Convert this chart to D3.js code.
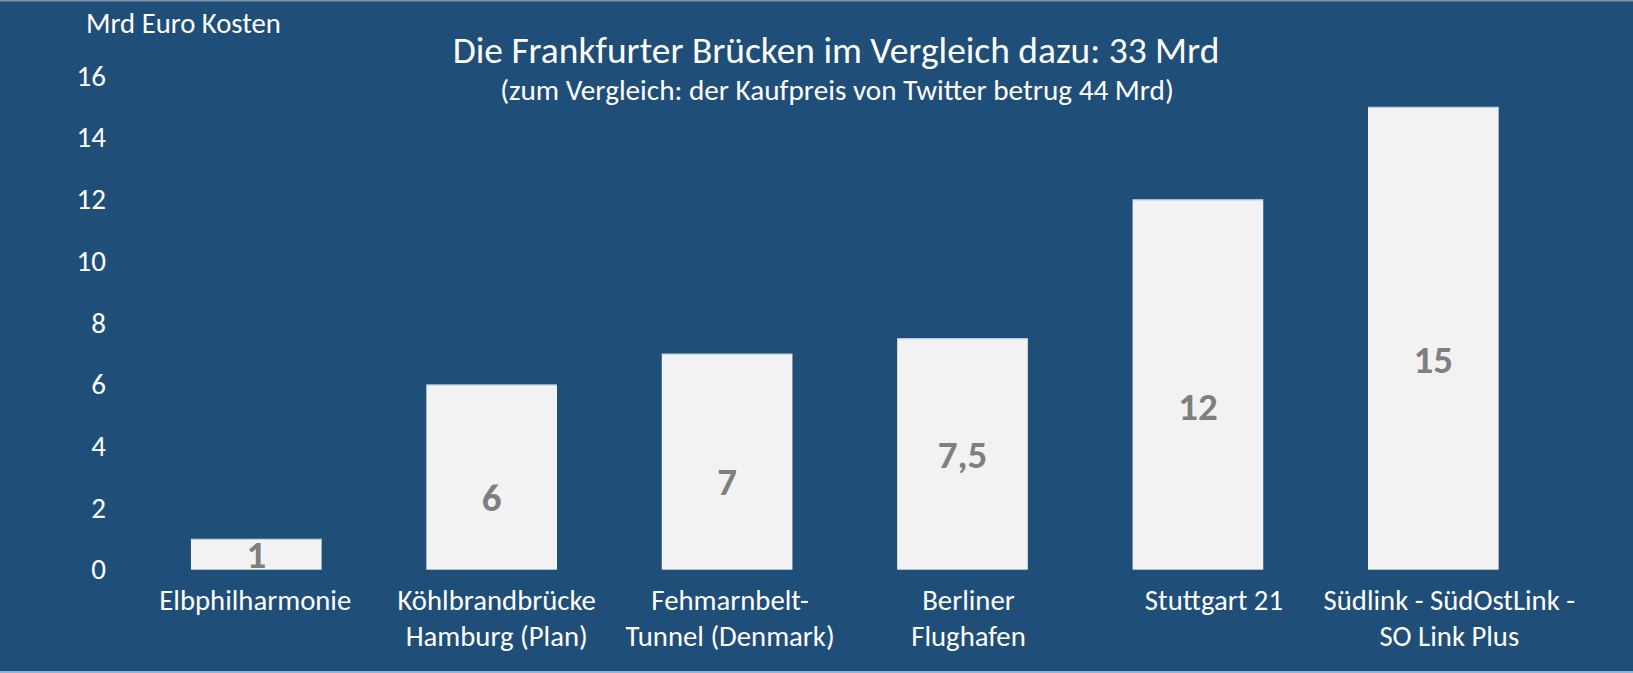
<!DOCTYPE html>
<html><head><meta charset="utf-8">
<script src="https://cdn.jsdelivr.net/npm/d3@7"></script>
<style>html,body{margin:0;padding:0;background:#1f4e79;overflow:hidden}</style>
</head><body><svg id="chart" width="1633" height="673"></svg>
<script>
// ---- data ----
const categories = ["Elbphilharmonie", "Köhlbrandbrücke\nHamburg (Plan)", "Fehmarnbelt-\nTunnel (Denmark)", "Berliner\nFlughafen", "Stuttgart 21", "Südlink - SüdOstLink -\nSO Link Plus"];
const values = [1, 6, 7, 7.5, 12, 15];
const valueLabels = ["1", "6", "7", "7,5", "12", "15"];
const yTicks = [0, 2, 4, 6, 8, 10, 12, 14, 16];
const yTickLabels = ["0", "2", "4", "6", "8", "10", "12", "14", "16"];
const titleText = "Die Frankfurter Brücken im Vergleich dazu: 33 Mrd";
const subtitleText = "(zum Vergleich: der Kaufpreis von Twitter betrug 44 Mrd)";
const yTitleText = "Mrd Euro Kosten";

// ---- layout / style ----
const W = 1633, H = 673;
const FONT = "Carlito, Calibri, Lato, sans-serif";
const labelShift = [0, 20, 19, 0, 21, 21];
const catDx = [-1, 5, 3, 6, 16, 16];
const svg = d3.select("#chart");
svg.append("rect").attr("width", W).attr("height", H).attr("fill", "#1f4e79");
svg.append("rect").attr("x", 0).attr("y", 0).attr("width", W).attr("height", 1.5).attr("fill", "#7f93a8");
svg.append("rect").attr("x", 0).attr("y", H - 2).attr("width", W).attr("height", 2).attr("fill", "#8fb2d6");

const x = d3.scaleBand().domain(categories).range([86.2, 1603.4]).padding(0.445);
const y = d3.scaleLinear().domain([0, 16]).range([569.7, 76]);

function fit(sel, target) {
  const w = sel.node().getComputedTextLength();
  const fs = parseFloat(sel.attr("font-size"));
  sel.attr("font-size", fs * target / w);
  return fs * target / w;
}

// titles
const t1 = svg.append("text").attr("x", 836).attr("y", 63).attr("text-anchor", "middle")
  .attr("font-family", FONT).attr("font-size", 30).attr("fill", "#ffffff").text(titleText);
fit(t1, 767);
const t2 = svg.append("text").attr("x", 837).attr("y", 100).attr("text-anchor", "middle")
  .attr("font-family", FONT).attr("font-size", 22).attr("fill", "#ffffff").text(subtitleText);
fit(t2, 674);
const t3 = svg.append("text").attr("x", 86).attr("y", 33).attr("text-anchor", "start")
  .attr("font-family", FONT).attr("font-size", 22).attr("fill", "#ffffff").text(yTitleText);
fit(t3, 195);

// y axis
const yAxis = d3.axisLeft(y).tickValues(yTicks).tickSize(0).tickPadding(0)
  .tickFormat((d, i) => yTickLabels[i]);
const gy = svg.append("g").attr("transform", "translate(106,0)").call(yAxis);
gy.select(".domain").remove();
gy.attr("font-size", null).attr("font-family", null);
gy.selectAll("text").attr("font-family", FONT).attr("font-size", 29).attr("fill", "#ffffff");

// bars
svg.append("g").selectAll("rect").data(values).join("rect")
  .attr("x", (d, i) => x(categories[i]))
  .attr("y", d => y(d))
  .attr("width", x.bandwidth())
  .attr("height", d => y(0) - y(d))
  .attr("fill", "#f2f2f2");
svg.append("g").selectAll("line").data(values).join("line")
  .attr("x1", (d, i) => x(categories[i]))
  .attr("x2", (d, i) => x(categories[i]) + x.bandwidth())
  .attr("y1", d => y(d) + 0.5).attr("y2", d => y(d) + 0.5)
  .attr("stroke", "#b4cbe3").attr("stroke-width", 1);

// value labels
svg.append("g").selectAll("text").data(values).join("text")
  .attr("x", (d, i) => x(categories[i]) + x.bandwidth() / 2)
  .attr("y", (d, i) => y(d / 2) + labelShift[i])
  .attr("dy", "0.36em")
  .attr("text-anchor", "middle")
  .attr("font-family", FONT).attr("font-weight", "bold").attr("font-size", 39)
  .attr("fill", "#7f7f7f")
  .text((d, i) => valueLabels[i]);

// category labels
const cg = svg.append("g");
const catTexts = cg.selectAll("text").data(categories).join("text")
  .attr("y", 610)
  .attr("text-anchor", "middle")
  .attr("font-family", FONT).attr("font-size", 22).attr("fill", "#ffffff");
catTexts.each(function (d, i) {
  const lines = d.split("\n");
  d3.select(this).selectAll("tspan").data(lines).join("tspan")
    .attr("x", x(d) + x.bandwidth() / 2 + catDx[i])
    .attr("dy", (l, j) => j === 0 ? 0 : 36)
    .text(l => l);
});
{
  const first = catTexts.filter((d, i) => i === 0);
  const fs = fit(first, 192);
  catTexts.attr("font-size", fs);
}
</script>
</body></html>
